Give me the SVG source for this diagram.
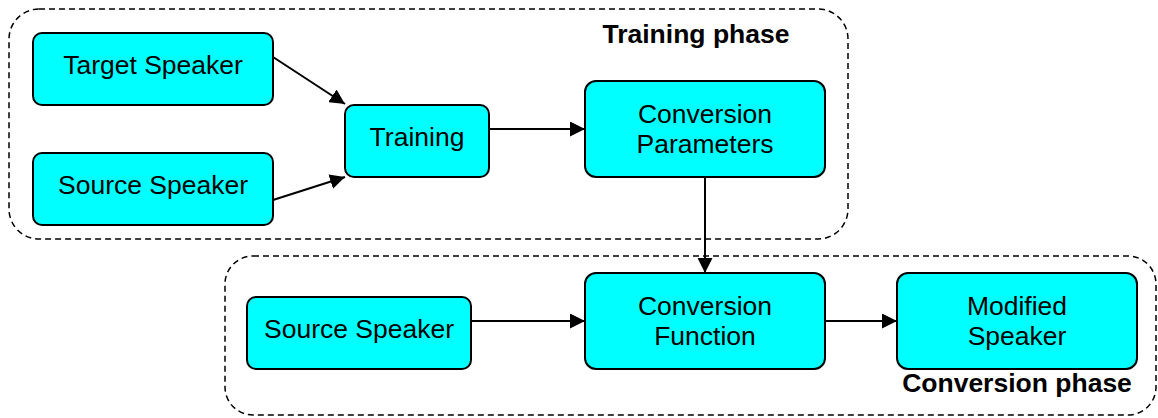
<svg xmlns="http://www.w3.org/2000/svg" width="1158" height="418" viewBox="0 0 1158 418">
<defs>
<style>
.phase{fill:none;stroke:#000;stroke-width:1.5;stroke-dasharray:6,4}
.node rect{fill:#00FFFF;stroke:#000;stroke-width:2}
.node text,.lbl{font-family:"Liberation Sans",Arial,sans-serif;font-size:26.5px;fill:#000;text-anchor:middle}
.lbl{font-weight:bold}
.conn line{stroke:#000;stroke-width:2;marker-end:url(#ah)}
</style>
<marker id="ah" viewBox="0 0 10 10" refX="10" refY="5" markerWidth="7.5" markerHeight="7.5" markerUnits="strokeWidth" orient="auto">
<path d="M0,0 L10,5 L0,10 z" fill="#000"/>
</marker>
</defs>
<rect class="phase" x="9" y="9" width="839" height="230" rx="30" ry="30"/>
<rect class="phase" x="225" y="256" width="931" height="159" rx="28" ry="28"/>
<text class="lbl" x="696" y="43">Training phase</text>
<text class="lbl" x="1017" y="392">Conversion phase</text>
<g class="conn">
<line x1="273" y1="57" x2="345" y2="104"/>
<line x1="273" y1="200" x2="345" y2="177"/>
<line x1="489" y1="129" x2="585" y2="129"/>
<line x1="705" y1="177" x2="705" y2="273"/>
<line x1="471" y1="321" x2="585" y2="321"/>
<line x1="825" y1="321" x2="897" y2="321"/>
</g>
<g id="target-speaker" class="node"><rect x="33" y="33" width="240" height="72" rx="9"/><text x="153" y="74">Target Speaker</text></g>
<g id="source-speaker-1" class="node"><rect x="33" y="153" width="240" height="72" rx="9"/><text x="153" y="194">Source Speaker</text></g>
<g id="training" class="node"><rect x="345" y="105" width="144" height="72" rx="9"/><text x="417" y="146">Training</text></g>
<g id="conversion-parameters" class="node"><rect x="585" y="81" width="240" height="96" rx="11"/><text x="705" y="123">Conversion</text><text x="705" y="153">Parameters</text></g>
<g id="source-speaker-2" class="node"><rect x="247" y="297" width="224" height="72" rx="9"/><text x="359" y="338">Source Speaker</text></g>
<g id="conversion-function" class="node"><rect x="585" y="273" width="240" height="96" rx="11"/><text x="705" y="315">Conversion</text><text x="705" y="345">Function</text></g>
<g id="modified-speaker" class="node"><rect x="897" y="273" width="240" height="96" rx="11"/><text x="1017" y="315">Modified</text><text x="1017" y="345">Speaker</text></g>
</svg>
